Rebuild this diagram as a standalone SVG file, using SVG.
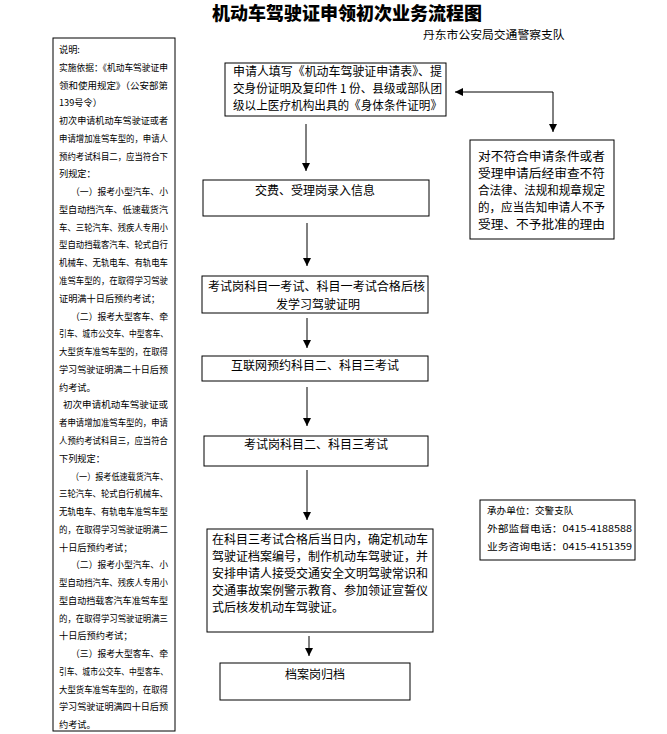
<svg xmlns="http://www.w3.org/2000/svg" width="667" height="734" viewBox="0 0 667 734">
<defs>
<style>
.bx{fill:#fff;stroke:#000;stroke-width:1}
.t{font-family:"Noto Sans CJK SC","Liberation Sans",sans-serif;font-size:12px;fill:#000}
.s{font-family:"Noto Sans CJK SC","Liberation Sans",sans-serif;font-size:9.2px;fill:#000}
.i{font-family:"Noto Sans CJK SC","Liberation Sans",sans-serif;font-size:9.6px;fill:#000}
.c{fill:none;stroke:#000;stroke-width:1}
</style>
<marker id="ah" markerUnits="userSpaceOnUse" markerWidth="8" markerHeight="9" refX="8" refY="4" orient="auto-start-reverse"><path d="M0,0 L8,4 L0,8 z" fill="#000"/></marker>
</defs>
<rect width="667" height="734" fill="#fff"/>
<g id="title">
<text x="347" y="20" text-anchor="middle" style="font-family:'Noto Sans CJK SC',sans-serif;font-size:18px;font-weight:900">机动车驾驶证申领初次业务流程图</text>
<text x="423" y="39" style="font-family:'Noto Sans CJK SC',sans-serif;font-size:11.8px">丹东市公安局交通警察支队</text>
</g>
<g id="notes">
<rect class="bx" x="53" y="38" width="122" height="693"/>
<text class="s" x="59" y="53">说明:</text>
<text class="s" x="59" y="71" textLength="109" lengthAdjust="spacingAndGlyphs">实施依据：《机动车驾驶证申</text>
<text class="s" x="59" y="89" textLength="109" lengthAdjust="spacingAndGlyphs">领和使用规定》（公安部第</text>
<text class="s" x="59" y="106">139号令）</text>
<text class="s" x="59" y="124" textLength="109" lengthAdjust="spacingAndGlyphs">初次申请机动车驾驶证或者</text>
<text class="s" x="59" y="142" textLength="109" lengthAdjust="spacingAndGlyphs">申请增加准驾车型的，申请人</text>
<text class="s" x="59" y="160" textLength="109" lengthAdjust="spacingAndGlyphs">预约考试科目二，应当符合下</text>
<text class="s" x="59" y="177">列规定：</text>
<text class="s" x="71" y="195" textLength="97" lengthAdjust="spacingAndGlyphs">（一）报考小型汽车、小</text>
<text class="s" x="59" y="213" textLength="109" lengthAdjust="spacingAndGlyphs">型自动挡汽车、低速载货汽</text>
<text class="s" x="59" y="231" textLength="109" lengthAdjust="spacingAndGlyphs">车、三轮汽车、残疾人专用小</text>
<text class="s" x="59" y="248" textLength="109" lengthAdjust="spacingAndGlyphs">型自动挡载客汽车、轮式自行</text>
<text class="s" x="59" y="266" textLength="109" lengthAdjust="spacingAndGlyphs">机械车、无轨电车、有轨电车</text>
<text class="s" x="59" y="284" textLength="109" lengthAdjust="spacingAndGlyphs">准驾车型的，在取得学习驾驶</text>
<text class="s" x="59" y="302">证明满十日后预约考试；</text>
<text class="s" x="71" y="320" textLength="97" lengthAdjust="spacingAndGlyphs">（二）报考大型客车、牵</text>
<text class="s" x="59" y="337" textLength="109" lengthAdjust="spacingAndGlyphs">引车、城市公交车、中型客车、</text>
<text class="s" x="59" y="355" textLength="109" lengthAdjust="spacingAndGlyphs">大型货车准驾车型的，在取得</text>
<text class="s" x="59" y="373" textLength="109" lengthAdjust="spacingAndGlyphs">学习驾驶证明满二十日后预</text>
<text class="s" x="59" y="391">约考试。</text>
<text class="s" x="63" y="408" textLength="105" lengthAdjust="spacingAndGlyphs">初次申请机动车驾驶证或</text>
<text class="s" x="59" y="426" textLength="109" lengthAdjust="spacingAndGlyphs">者申请增加准驾车型的，申请</text>
<text class="s" x="59" y="444" textLength="109" lengthAdjust="spacingAndGlyphs">人预约考试科目三，应当符合</text>
<text class="s" x="59" y="462">下列规定：</text>
<text class="s" x="71" y="480" textLength="97" lengthAdjust="spacingAndGlyphs">（一）报考低速载货汽车、</text>
<text class="s" x="59" y="497" textLength="109" lengthAdjust="spacingAndGlyphs">三轮汽车、轮式自行机械车、</text>
<text class="s" x="59" y="515" textLength="109" lengthAdjust="spacingAndGlyphs">无轨电车、有轨电车准驾车型</text>
<text class="s" x="59" y="533" textLength="109" lengthAdjust="spacingAndGlyphs">的，在取得学习驾驶证明满二</text>
<text class="s" x="59" y="551">十日后预约考试；</text>
<text class="s" x="71" y="568" textLength="97" lengthAdjust="spacingAndGlyphs">（二）报考小型汽车、小</text>
<text class="s" x="59" y="586" textLength="109" lengthAdjust="spacingAndGlyphs">型自动挡汽车、残疾人专用小</text>
<text class="s" x="59" y="604" textLength="109" lengthAdjust="spacingAndGlyphs">型自动挡载客汽车准驾车型</text>
<text class="s" x="59" y="622" textLength="109" lengthAdjust="spacingAndGlyphs">的，在取得学习驾驶证明满三</text>
<text class="s" x="59" y="639">十日后预约考试；</text>
<text class="s" x="71" y="657" textLength="97" lengthAdjust="spacingAndGlyphs">（三）报考大型客车、牵</text>
<text class="s" x="59" y="675" textLength="109" lengthAdjust="spacingAndGlyphs">引车、城市公交车、中型客车、</text>
<text class="s" x="59" y="693" textLength="109" lengthAdjust="spacingAndGlyphs">大型货车准驾车型的，在取得</text>
<text class="s" x="59" y="710" textLength="109" lengthAdjust="spacingAndGlyphs">学习驾驶证明满四十日后预</text>
<text class="s" x="59" y="728">约考试。</text>
</g>
<g id="n1">
<rect class="bx" x="225" y="63" width="221" height="53"/>
<text class="t" x="233" y="76" textLength="209" lengthAdjust="spacingAndGlyphs">申请人填写《机动车驾驶证申请表》、提</text>
<text class="t" x="233" y="93" textLength="209" lengthAdjust="spacingAndGlyphs">交身份证明及复印件 1 份、县级或部队团</text>
<text class="t" x="233" y="110" textLength="209" lengthAdjust="spacingAndGlyphs">级以上医疗机构出具的《身体条件证明》</text>
</g>
<g id="n2">
<rect class="bx" x="203" y="180" width="226" height="36"/>
<text class="t" x="315" y="195" text-anchor="middle">交费、受理岗录入信息</text>
</g>
<g id="n3">
<rect class="bx" x="202" y="276" width="226" height="37"/>
<text class="t" x="208" y="291" textLength="217" lengthAdjust="spacingAndGlyphs">考试岗科目一考试、科目一考试合格后核</text>
<text class="t" x="318" y="309" text-anchor="middle">发学习驾驶证明</text>
</g>
<g id="n4">
<rect class="bx" x="202" y="356" width="226" height="25"/>
<text class="t" x="315" y="370" text-anchor="middle">互联网预约科目二、科目三考试</text>
</g>
<g id="n5">
<rect class="bx" x="204" y="436" width="224" height="30"/>
<text class="t" x="316" y="449" text-anchor="middle">考试岗科目二、科目三考试</text>
</g>
<g id="n6">
<rect class="bx" x="207" y="529" width="226" height="103"/>
<text class="t" x="212" y="544" textLength="216" lengthAdjust="spacingAndGlyphs">在科目三考试合格后当日内，确定机动车</text>
<text class="t" x="212" y="561" textLength="216" lengthAdjust="spacingAndGlyphs">驾驶证档案编号，制作机动车驾驶证，并</text>
<text class="t" x="212" y="578" textLength="216" lengthAdjust="spacingAndGlyphs">安排申请人接受交通安全文明驾驶常识和</text>
<text class="t" x="212" y="595" textLength="216" lengthAdjust="spacingAndGlyphs">交通事故案例警示教育、参加领证宣誓仪</text>
<text class="t" x="212" y="612">式后核发机动车驾驶证。</text>
</g>
<g id="n7">
<rect class="bx" x="220" y="663" width="190" height="37"/>
<text class="t" x="315" y="679" text-anchor="middle">档案岗归档</text>
</g>
<g id="n8">
<rect class="bx" x="470" y="140" width="144" height="99"/>
<text class="t" x="478" y="161" textLength="127" lengthAdjust="spacingAndGlyphs">对不符合申请条件或者</text>
<text class="t" x="478" y="178" textLength="127" lengthAdjust="spacingAndGlyphs">受理申请后经审查不符</text>
<text class="t" x="478" y="195" textLength="127" lengthAdjust="spacingAndGlyphs">合法律、法规和规章规定</text>
<text class="t" x="478" y="212" textLength="127" lengthAdjust="spacingAndGlyphs">的，应当告知申请人不予</text>
<text class="t" x="478" y="229" textLength="127" lengthAdjust="spacingAndGlyphs">受理、不予批准的理由</text>
</g>
<g id="n9">
<rect class="bx" x="480" y="500" width="155" height="60"/>
<text class="i" x="487" y="514">承办单位：交警支队</text>
<text class="i" x="487" y="532" textLength="145" lengthAdjust="spacingAndGlyphs">外部监督电话：0415-4188588</text>
<text class="i" x="487" y="550" textLength="145" lengthAdjust="spacingAndGlyphs">业务咨询电话：0415-4151359</text>
</g>
<g id="connectors">
<path class="c" d="M306,124 V171" marker-end="url(#ah)"/>
<path class="c" d="M307,223 V266" marker-end="url(#ah)"/>
<path class="c" d="M307,318 V348" marker-end="url(#ah)"/>
<path class="c" d="M307,387 V426" marker-end="url(#ah)"/>
<path class="c" d="M307,470 V520" marker-end="url(#ah)"/>
<path class="c" d="M309,636 V656" marker-end="url(#ah)"/>
<path class="c" d="M455,92 H553 V132" marker-start="url(#ah)" marker-end="url(#ah)"/>
</g>
</svg>
